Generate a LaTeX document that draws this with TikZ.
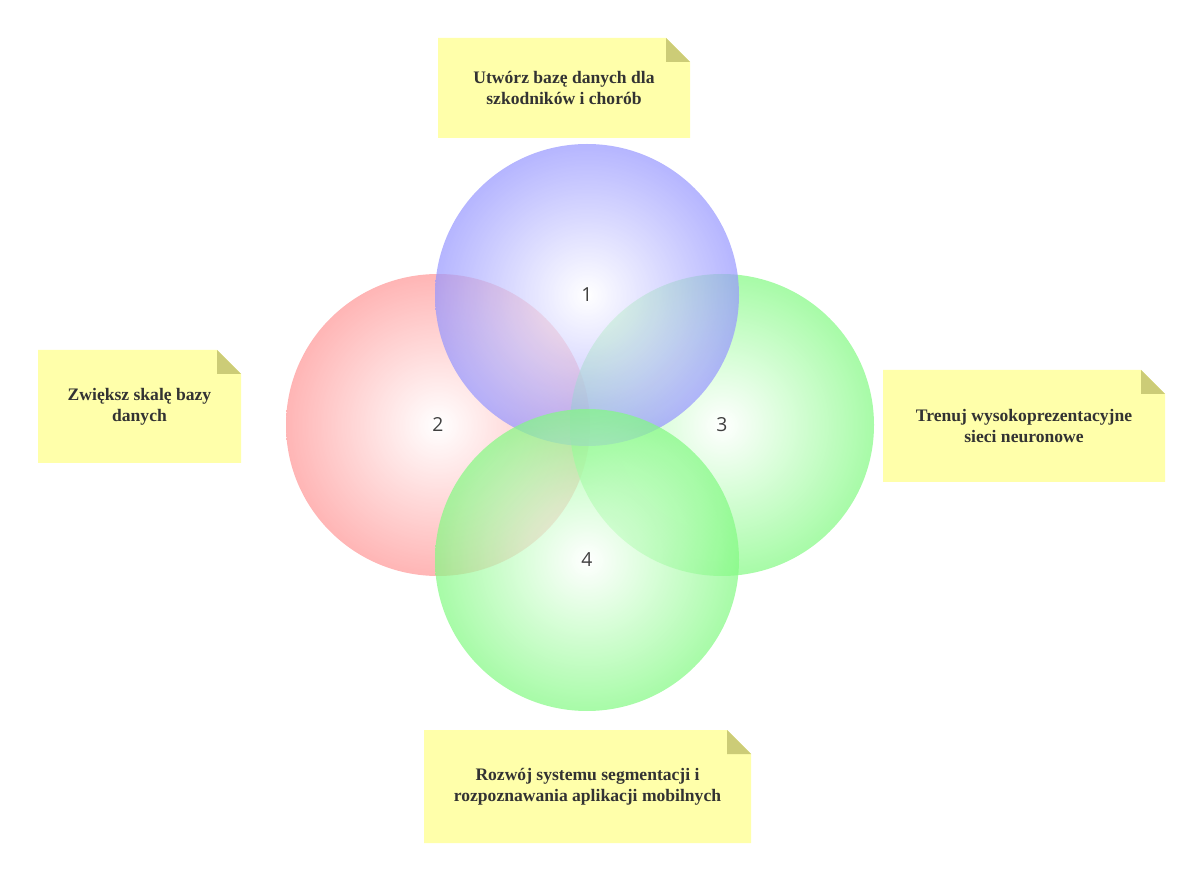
\documentclass[tikz,border=0pt]{standalone}
\usepackage{fontspec}
\setmainfont{Liberation Serif}
\newfontfamily\numfont{Open Sans}
\usetikzlibrary{positioning,shapes.geometric}
\definecolor{notefill}{RGB}{255,255,170}
\definecolor{notefold}{RGB}{204,204,119}
\definecolor{bluedisc}{RGB}{150,150,255}
\definecolor{reddisc}{RGB}{255,150,150}
\definecolor{greendisc}{RGB}{130,250,130}
\tikzset{
  disc/.style={ellipse, minimum width=6.08cm, minimum height=6.04cm, shading=radial, inner color=white, fill opacity=0.7, draw=none},
  disclabel/.style={text=black!75, font=\numfont\fontsize{11}{13}\selectfont},
  notetext/.style={font=\bfseries\fontsize{10}{12}\selectfont, align=center, text=black!80}
}
\newcommand{\stickynote}[5]{% name, x1, y1, x2, y2
  \fill[notefill] (#2,#3) -- ({#4-0.48},#3) -- (#4,{#3-0.48}) -- (#4,#5) -- (#2,#5) -- cycle;
  \fill[notefold] ({#4-0.48},#3) -- (#4,{#3-0.48}) -- ({#4-0.48},{#3-0.48}) -- cycle;
  \coordinate (#1) at ({(#2+#4)/2},{(#3+#5)/2});
}
\begin{document}
\begin{tikzpicture}[x=1cm,y=1cm]
    \useasboundingbox (0,0) rectangle (24.04,-17.62);

    \node[disc, outer color=reddisc] (two) at (8.76,-8.5) {};
    \node[disc, outer color=greendisc] (three) at (14.44,-8.5) {};
    \node[disc, outer color=bluedisc] (one) at (11.74,-5.9) {};
    \node[disc, outer color=greendisc] (four) at (11.74,-11.2) {};
    \node[disclabel] at (one) {1};
    \node[disclabel] at (two) {2};
    \node[disclabel] at (three) {3};
    \node[disclabel] at (four) {4};

    \stickynote{topnote}{8.76}{-0.76}{13.8}{-2.76}
    \stickynote{leftnote}{0.76}{-7.0}{4.82}{-9.26}
    \stickynote{rightnote}{17.66}{-7.4}{23.3}{-9.64}
    \stickynote{bottomnote}{8.48}{-14.6}{15.02}{-16.86}

    \node[notetext] at (topnote) {Utwórz bazę danych dla\\szkodników i chorób};
    \node[notetext] at (leftnote) {Zwiększ skalę bazy\\danych};
    \node[notetext] at (rightnote) {Trenuj wysokoprezentacyjne\\sieci neuronowe};
    \node[notetext] at (bottomnote) {Rozwój systemu segmentacji i\\rozpoznawania aplikacji mobilnych};
\end{tikzpicture}
\end{document}
